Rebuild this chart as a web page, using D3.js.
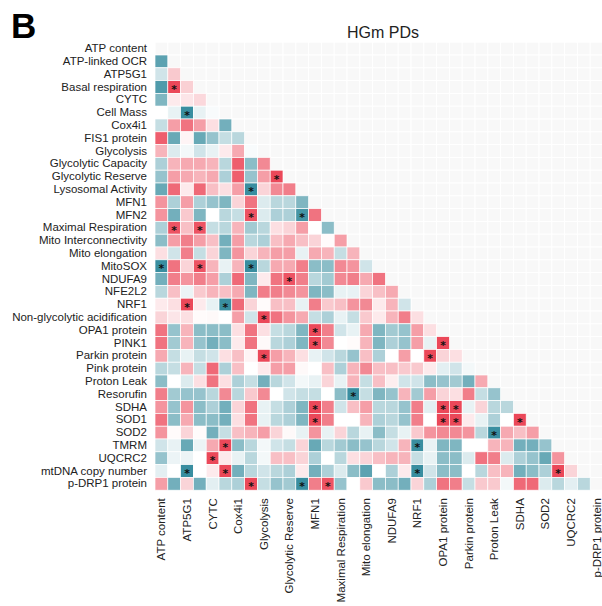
<!DOCTYPE html>
<html>
<head>
<meta charset="utf-8">
<script src="https://cdn.jsdelivr.net/npm/d3@7"></script>
<style>
  html, body { margin: 0; padding: 0; background: #ffffff; }
  svg { display: block; }
  text { font-family: "Liberation Sans", Arial, Helvetica, sans-serif; }
</style>
</head>
<body>
<svg id="chart" width="602" height="606"></svg>
<script>
// Variables in matrix order (rows top to bottom, columns left to right)
const variables = [
  "ATP content", "ATP-linked OCR", "ATP5G1", "Basal respiration", "CYTC",
  "Cell Mass", "Cox4i1", "FIS1 protein", "Glycolysis", "Glycolytic Capacity",
  "Glycolytic Reserve", "Lysosomal Activity", "MFN1", "MFN2", "Maximal Respiration",
  "Mito Interconnectivity", "Mito elongation", "MitoSOX", "NDUFA9", "NFE2L2",
  "NRF1", "Non-glycolytic acidification", "OPA1 protein", "PINK1", "Parkin protein",
  "Pink protein", "Proton Leak", "Resorufin", "SDHA", "SOD1",
  "SOD2", "TMRM", "UQCRC2", "mtDNA copy number", "p-DRP1 protein"
];

// Lower-triangle correlations: corrRows[k] holds row variables[k + 1] against columns 0..k
const corrRows = [
  [-0.7],
  [-0.2, 0.25],
  [-0.75, 0.85, 0.22],
  [-0.55, 0.1, 0.12, 0.18],
  [0.0, -0.1, -0.85, -0.1, -0.03],
  [-0.25, 0.45, 0.65, 0.45, 0.15, -0.6],
  [0.75, -0.65, 0.05, -0.65, -0.45, -0.25, -0.3],
  [0.35, -0.15, -0.05, -0.2, -0.1, 0.1, 0.4, -0.03],
  [-0.35, 0.35, 0.4, 0.4, 0.35, -0.3, 0.75, -0.5, 0.55],
  [-0.45, 0.45, 0.4, 0.35, 0.4, -0.35, 0.75, -0.45, 0.45, 0.85],
  [-0.65, 0.7, 0.1, 0.7, 0.3, 0.15, 0.45, -0.85, 0.2, 0.55, 0.6],
  [0.5, -0.35, 0.45, -0.35, -0.45, -0.55, 0.2, 0.65, -0.15, -0.3, -0.3, -0.55],
  [0.5, -0.6, 0.25, -0.55, 0.0, -0.3, -0.25, 0.8, -0.15, -0.35, -0.35, -0.8, 0.65],
  [-0.35, 0.8, 0.3, 0.8, -0.25, -0.3, 0.35, -0.4, -0.3, 0.15, 0.2, 0.45, 0.0, -0.5],
  [-0.5, 0.45, 0.6, 0.45, 0.3, -0.6, 0.45, -0.3, -0.35, 0.3, 0.4, 0.3, 0.2, 0.02, 0.45],
  [0.15, -0.2, 0.6, -0.25, 0.2, -0.55, 0.5, 0.2, 0.35, 0.45, 0.45, -0.1, 0.4, 0.35, -0.25, 0.35],
  [-0.85, 0.65, 0.2, 0.8, 0.35, -0.1, 0.35, -0.85, -0.3, 0.4, 0.4, 0.6, -0.5, -0.5, 0.55, 0.5, -0.2],
  [-0.6, 0.6, 0.5, 0.6, 0.45, -0.35, 0.7, -0.55, 0.1, 0.65, 0.8, 0.6, -0.3, -0.4, 0.55, 0.6, 0.4, 0.65],
  [-0.3, 0.3, -0.08, 0.25, 0.35, 0.3, 0.4, -0.55, 0.6, 0.6, 0.55, 0.5, -0.55, -0.5, -0.1, -0.1, 0.2, 0.3, 0.4],
  [0.1, 0.15, 0.85, 0.1, -0.1, -0.85, 0.7, 0.2, 0.02, 0.3, 0.3, -0.1, 0.6, 0.25, 0.3, 0.5, 0.55, 0.1, 0.35, -0.2],
  [0.2, 0.12, 0.15, 0.02, 0.03, 0.0, 0.45, -0.2, 0.85, 0.65, 0.5, 0.4, -0.25, -0.35, -0.1, -0.25, 0.25, 0.1, 0.35, 0.6, 0.15],
  [0.65, -0.45, 0.35, -0.5, -0.5, -0.5, 0.15, 0.65, 0.15, -0.25, -0.3, -0.55, 0.85, 0.6, -0.2, -0.1, 0.4, -0.55, -0.4, -0.45, 0.45, 0.15],
  [0.65, -0.4, 0.35, -0.45, -0.6, -0.5, 0.1, 0.65, 0.03, -0.3, -0.35, -0.55, 0.85, 0.55, 0.0, 0.02, 0.35, -0.55, -0.35, -0.45, 0.45, -0.1, 0.85],
  [0.4, -0.25, -0.1, -0.25, -0.2, 0.15, 0.3, 0.05, 0.85, 0.45, 0.35, 0.15, -0.1, -0.2, -0.3, -0.45, 0.3, -0.35, 0.0, 0.45, 0.0, 0.85, 0.2, 0.15],
  [-0.3, -0.25, 0.35, -0.25, 0.7, -0.35, 0.3, 0.0, 0.1, 0.45, 0.45, 0.03, 0.0, 0.3, -0.35, 0.35, 0.55, 0.3, 0.3, 0.25, 0.25, 0.1, -0.12, -0.2, -0.05],
  [-0.5, 0.0, -0.15, 0.15, 0.65, 0.15, -0.35, -0.25, -0.6, -0.3, -0.2, -0.05, -0.1, 0.2, -0.1, 0.35, -0.25, 0.3, 0.08, -0.2, -0.2, -0.5, -0.45, -0.4, -0.6, 0.4],
  [0.6, -0.4, -0.45, -0.45, -0.3, 0.55, -0.3, 0.25, 0.55, 0.0, -0.2, -0.25, -0.25, 0.0, -0.5, -0.85, -0.25, -0.55, -0.45, 0.35, -0.4, 0.45, 0.2, 0.15, 0.6, -0.25, -0.45],
  [0.5, -0.45, 0.5, -0.5, -0.35, -0.6, 0.2, 0.65, -0.1, -0.25, -0.35, -0.55, 0.85, 0.6, -0.2, 0.3, 0.45, -0.3, -0.3, -0.45, 0.6, -0.12, 0.85, 0.85, -0.1, 0.2, -0.3, -0.3],
  [0.65, -0.5, 0.4, -0.5, -0.5, -0.6, 0.15, 0.65, -0.1, -0.3, -0.35, -0.55, 0.85, 0.6, 0.0, 0.0, 0.35, -0.35, -0.3, -0.45, 0.6, 0.0, 0.85, 0.85, 0.1, -0.1, -0.35, 0.0, 0.85],
  [0.5, 0.02, 0.2, 0.02, -0.6, -0.25, 0.3, 0.35, 0.45, 0.2, 0.03, -0.1, 0.5, -0.1, 0.2, -0.3, -0.1, -0.5, -0.25, -0.1, 0.25, 0.5, 0.55, 0.55, 0.5, -0.3, -0.85, 0.4, 0.3, 0.45],
  [-0.2, -0.1, -0.65, -0.08, 0.4, 0.85, -0.5, -0.3, -0.05, -0.2, -0.25, 0.2, -0.65, -0.3, -0.4, -0.5, -0.45, -0.3, -0.2, 0.35, -0.85, -0.1, -0.55, -0.55, 0.0, 0.0, 0.35, 0.35, -0.6, -0.6, -0.45],
  [-0.45, -0.08, -0.08, 0.0, 0.85, 0.1, -0.1, -0.3, -0.05, 0.3, 0.3, 0.2, -0.35, 0.0, -0.3, 0.15, 0.2, 0.3, 0.35, 0.35, -0.25, -0.1, -0.5, -0.5, -0.15, 0.65, 0.6, -0.15, -0.35, -0.45, -0.65, 0.5],
  [-0.12, 0.0, -0.85, 0.0, 0.1, 0.85, -0.6, -0.3, -0.2, -0.3, -0.35, 0.1, -0.6, -0.35, -0.15, -0.5, -0.7, 0.0, -0.35, 0.1, -0.85, -0.2, -0.5, -0.5, 0.0, -0.3, 0.3, 0.35, -0.6, -0.5, -0.35, 0.85, 0.2],
  [0.45, -0.6, 0.2, -0.6, -0.12, -0.3, -0.35, 0.85, -0.25, -0.45, -0.4, -0.85, 0.6, 0.8, -0.45, 0.0, 0.25, -0.5, -0.5, -0.6, 0.2, -0.35, 0.65, 0.6, -0.25, 0.25, 0.25, -0.05, 0.7, 0.7, -0.15, -0.3, -0.12, -0.3]
];

// Significant pairs [row index, column index]
const signifPairs = [
  [3, 1], [5, 2], [10, 9], [11, 7], [13, 7], [13, 11], [14, 1], [14, 3],
  [17, 0], [17, 3], [17, 7], [18, 10], [20, 2], [20, 5], [21, 8],
  [22, 12], [23, 12], [23, 22], [24, 8], [24, 21], [27, 15],
  [28, 12], [28, 22], [28, 23], [29, 12], [29, 22], [29, 23], [29, 28],
  [30, 26], [31, 5], [31, 20], [32, 4], [33, 2], [33, 5], [33, 20], [33, 31],
  [34, 7], [34, 11], [34, 13]
];

// Every other variable is labelled along the bottom
const columnTickLabels = variables.filter((d, i) => i % 2 === 0);

const titleText = "HGm PDs";
const panelTag = "B";

// ---- layout ----
const svg = d3.select("#chart");
const cell = 12.8;
const gridLeft = 155, gridTop = 42.2;
const n = variables.length;

const x = d3.scaleBand().domain(variables).range([gridLeft, gridLeft + n * cell]).padding(0);
const y = d3.scaleBand().domain(variables).range([gridTop, gridTop + n * cell]).padding(0);

const color = d3.scaleLinear()
  .domain([-1, 0, 1])
  .range(["#167a8f", "#ffffff", "#e8283c"])
  .clamp(true);

// Build tile records
const tiles = [];
corrRows.forEach((vals, k) => {
  const r = k + 1;
  vals.forEach((v, c) => tiles.push({ row: variables[r], col: variables[c], value: v }));
});
const signifSet = new Set(signifPairs.map(([r, c]) => variables[r] + "|" + variables[c]));

// Faint background grid over the empty upper half
const empty = [];
variables.forEach((rv, r) => variables.forEach((cv, c) => { if (c >= r) empty.push({ row: rv, col: cv }); }));
svg.append("g").selectAll("rect").data(empty).join("rect")
  .attr("x", d => x(d.col)).attr("y", d => y(d.row))
  .attr("width", x.bandwidth()).attr("height", y.bandwidth())
  .attr("fill", "#f8f8f8").attr("stroke", "#ffffff").attr("stroke-width", 1);

// Correlation tiles
svg.append("g").selectAll("rect").data(tiles).join("rect")
  .attr("x", d => x(d.col)).attr("y", d => y(d.row))
  .attr("width", x.bandwidth()).attr("height", y.bandwidth())
  .attr("fill", d => color(d.value))
  .attr("stroke", "#ffffff").attr("stroke-width", 0.7);

// Significance asterisks
svg.append("g").selectAll("text")
  .data(tiles.filter(d => signifSet.has(d.row + "|" + d.col)))
  .join("text")
  .attr("x", d => x(d.col) + x.bandwidth() / 2)
  .attr("y", d => y(d.row) + y.bandwidth() / 2 + 6)
  .attr("text-anchor", "middle")
  .attr("font-size", 10.8)
  .attr("font-weight", "bold")
  .style("font-family", '"DejaVu Sans", sans-serif')
  .attr("fill", "#111111")
  .text("*");

// Row labels
const yAxis = svg.append("g")
  .attr("transform", `translate(${gridLeft - 2},0)`)
  .call(d3.axisLeft(y).tickSize(0).tickPadding(6));
yAxis.select(".domain").remove();
yAxis.selectAll("text")
  .attr("font-size", 11.5)
  .attr("fill", "#222222")
  .style("font-family", '"Liberation Sans", Arial, sans-serif');

// Column labels (rotated)
const xAxis = svg.append("g")
  .attr("transform", `translate(0,${gridTop + n * cell})`)
  .call(d3.axisBottom(x).tickValues(columnTickLabels).tickSize(0).tickPadding(0));
xAxis.select(".domain").remove();
xAxis.selectAll("text")
  .attr("font-size", 11.5)
  .attr("fill", "#222222")
  .style("font-family", '"Liberation Sans", Arial, sans-serif')
  .attr("text-anchor", "end")
  .attr("transform", "rotate(-90)")
  .attr("x", -8)
  .attr("y", 0)
  .attr("dy", "0.35em");

// Title
svg.append("text")
  .attr("x", gridLeft + n * cell / 2 + 4)
  .attr("y", 38)
  .attr("text-anchor", "middle")
  .attr("font-size", 16)
  .attr("fill", "#222222")
  .text(titleText);

// Panel tag
svg.append("text")
  .attr("x", 11)
  .attr("y", 38)
  .attr("font-size", 35)
  .attr("font-weight", "bold")
  .attr("fill", "#000000")
  .text(panelTag);
</script>
</body>
</html>
